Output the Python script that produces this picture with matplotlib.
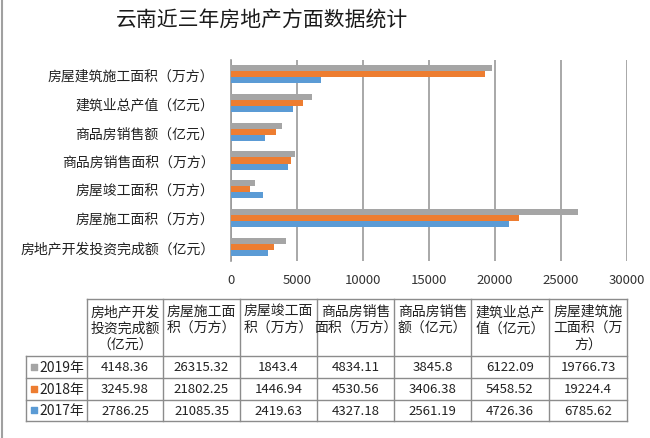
import matplotlib
matplotlib.use("Agg")
import matplotlib.pyplot as plt
import numpy as np

plt.rcParams['font.family'] = ['Noto Sans CJK SC', 'DejaVu Sans']

categories = ["房地产开发投资完成额（亿元）", "房屋施工面积（万方）", "房屋竣工面积（万方）",
              "商品房销售面积（万方）", "商品房销售额（亿元）", "建筑业总产值（亿元）",
              "房屋建筑施工面积（万方）"]
headers = ["房地产开发\n投资完成额\n（亿元）", "房屋施工面\n积（万方）", "房屋竣工面\n积（万方）",
           "商品房销售\n面积（万方）", "商品房销售\n额（亿元）", "建筑业总产\n值（亿元）",
           "房屋建筑施\n工面积（万\n方）"]
series_names = ["2019年", "2018年", "2017年"]
v2019 = [4148.36, 26315.32, 1843.4, 4834.11, 3845.8, 6122.09, 19766.73]
v2018 = [3245.98, 21802.25, 1446.94, 4530.56, 3406.38, 5458.52, 19224.4]
v2017 = [2786.25, 21085.35, 2419.63, 4327.18, 2561.19, 4726.36, 6785.62]
labels2019 = ["4148.36", "26315.32", "1843.4", "4834.11", "3845.8", "6122.09", "19766.73"]
labels2018 = ["3245.98", "21802.25", "1446.94", "4530.56", "3406.38", "5458.52", "19224.4"]
labels2017 = ["2786.25", "21085.35", "2419.63", "4327.18", "2561.19", "4726.36", "6785.62"]
xticks = [0, 5000, 10000, 15000, 20000, 25000, 30000]
colors = ["#A5A5A5", "#ED7D31", "#5B9BD5"]

W, H = 650, 439
fig = plt.figure(figsize=(6.5, 4.39), dpi=100)

def px_axes(x0, y0, x1, y1):
    return fig.add_axes([x0 / W, 1 - y1 / H, (x1 - x0) / W, (y1 - y0) / H])

# Title
fig.text(262 / W, 1 - 21 / H, "云南近三年房地产方面数据统计", ha='center', va='center',
         fontsize=15, fontweight='medium', color='#1a1a1a')

# Bar chart
ax = px_axes(231, 61, 627, 262)
y = np.arange(len(categories))
h = 0.21
for vals, off, c in zip([v2019, v2018, v2017], [h, 0, -h], colors):
    ax.barh(y + off, vals, height=h, color=c, zorder=3)
ax.set_xlim(0, 30000)
ax.set_ylim(-0.5, len(categories) - 0.5)
ax.set_xticks(xticks)
ax.set_xticklabels([str(t) for t in xticks], fontsize=9.5, color='#333333')
ax.set_yticks(y)
ax.set_yticklabels(categories, fontsize=10, color='#222222')
ax.tick_params(axis='both', length=0)
ax.tick_params(axis='x', pad=9)
ax.tick_params(axis='y', pad=12)
ax.grid(axis='x', color='#9a9a9a', linewidth=1.2, zorder=0)
for s in ['top', 'right', 'bottom']:
    ax.spines[s].set_visible(False)
ax.spines['left'].set_color('#9a9a9a')
ax.spines['left'].set_linewidth(1.2)

# Data table
tab = px_axes(0, 0, W, H)
tab.set_xlim(0, W)
tab.set_ylim(H, 0)
tab.axis('off')
col_x = [87, 163, 240, 317, 394, 471, 549, 627]
row_y = [300, 357, 379, 401, 422]
lc = '#8c8c8c'
lw = 1.0
tab.plot([col_x[0], col_x[-1]], [row_y[0], row_y[0]], color=lc, lw=lw)
for yy in row_y[1:]:
    tab.plot([26, col_x[-1]], [yy, yy], color=lc, lw=lw)
for i, xx in enumerate(col_x):
    tab.plot([xx, xx], [row_y[0], row_y[-1]], color=lc, lw=lw)
tab.plot([26, 26], [row_y[1], row_y[-1]], color=lc, lw=lw)

for i, hd in enumerate(headers):
    cx = (col_x[i] + col_x[i + 1]) / 2
    for j, line in enumerate(hd.split("\n")):
        tab.text(cx, 312 + j * 17, line, ha='center', va='center', fontsize=10, color='#222222')

rows = [labels2019, labels2018, labels2017]
for r, (name, lab, c) in enumerate(zip(series_names, rows, colors)):
    cy = (row_y[r + 1] + row_y[r + 2]) / 2
    tab.scatter([34], [cy], marker='s', s=22, color=c)
    tab.text(39, cy, name, ha='left', va='center', fontsize=10, color='#222222')
    for i, t in enumerate(lab):
        cx = (col_x[i] + col_x[i + 1]) / 2
        tab.text(cx, cy, t, ha='center', va='center', fontsize=9.5, color='#222222')

tab.plot([1.5, 1.5], [0, H], color='#a0a0a0', lw=1.5)

fig.savefig("out.png", dpi=100)
